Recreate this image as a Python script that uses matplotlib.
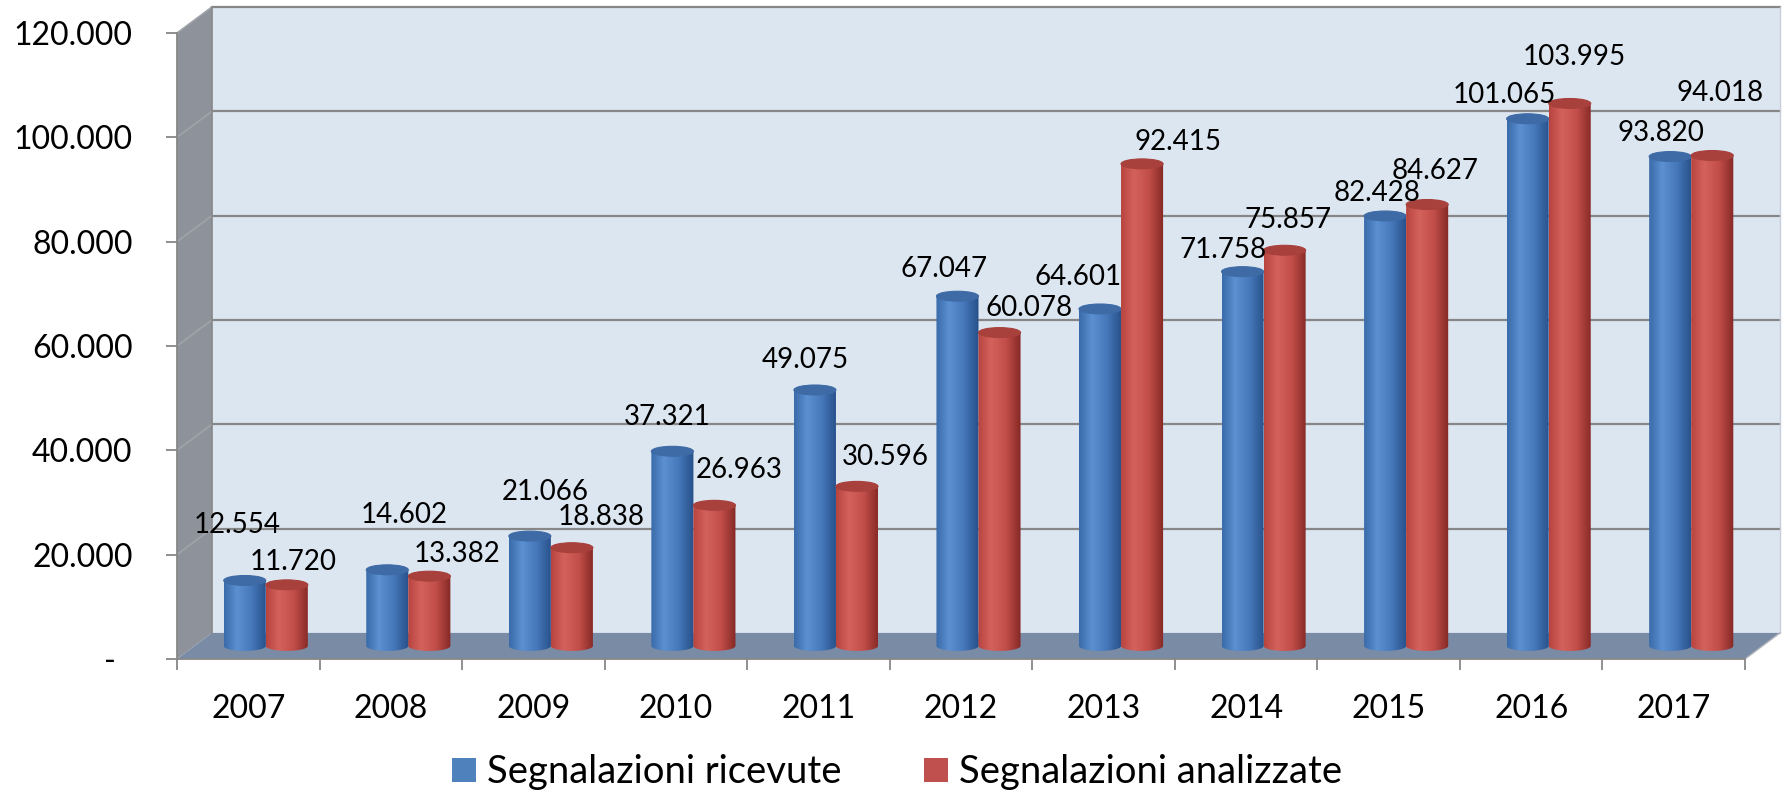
import numpy as np
import matplotlib
matplotlib.use("Agg")
import matplotlib.pyplot as plt
from matplotlib.patches import Polygon, Ellipse, PathPatch, Patch
from matplotlib.path import Path
from matplotlib.colors import LinearSegmentedColormap

plt.rcParams['font.family'] = ['Lato', 'DejaVu Sans']

# data
years = ['2007', '2008', '2009', '2010', '2011', '2012', '2013', '2014', '2015', '2016', '2017']
ricevute = [12554, 14602, 21066, 37321, 49075, 67047, 64601, 71758, 82428, 101065, 93820]
analizzate = [11720, 13382, 18838, 26963, 30596, 60078, 92415, 75857, 84627, 103995, 94018]
series_names = ['Segnalazioni ricevute', 'Segnalazioni analizzate']
y_ticks = [0, 20000, 40000, 60000, 80000, 100000, 120000]

# hand-placed label offsets (pixels from the cylinder top)
off_ricevute = [(-8, 57), (17, 57), (15, 46), (-5, 36), (-10, 32), (-13, 29),
                (-22, 34), (-20, 24), (-8, 25), (-23, 26), (-9, 26)]
off_analizzate = [(6, 25), (28, 24), (29, 33), (25, 37), (28, 31), (30, 27),
                  (36, 24), (3, 32), (8, 35), (5, 48), (8, 64)]

# 3d look
DX = 0.2455      # depth in category units
DY = 5000        # depth in value units
BAR_W = 0.295
ELL_H = 1900
GRID_C = '#878787'

blue_cmap = LinearSegmentedColormap.from_list(
    'b', [(0, '#3A6BAA'), (0.3, '#5B90D1'), (0.65, '#4678BA'), (1, '#27508A')])
red_cmap = LinearSegmentedColormap.from_list(
    'r', [(0, '#B8443F'), (0.3, '#D4625C'), (0.65, '#C24E49'), (1, '#862926')])


def fmt(v):
    if v == 0:
        return '-  '
    return f'{v:,.0f}'.replace(',', '.')


def cylinder(ax, xl, value, cmap, top_color, z):
    xr = xl + BAR_W
    base = DY / 2
    top = value + DY / 2
    t = np.linspace(np.pi, 2 * np.pi, 40)
    xc = (xl + xr) / 2
    ex = xc + BAR_W / 2 * np.cos(t)
    ey = base + ELL_H / 2 * np.sin(t)
    verts = [(xl, top)] + list(zip(ex, ey)) + [(xr, top), (xl, top)]
    clip = PathPatch(Path(verts), facecolor='none', edgecolor='none', zorder=z)
    ax.add_patch(clip)
    grad = np.linspace(0, 1, 64).reshape(1, -1)
    im = ax.imshow(grad, cmap=cmap, extent=[xl, xr, base - ELL_H / 2, top],
                   aspect='auto', interpolation='bilinear', zorder=z)
    im.set_clip_path(clip)
    ax.add_patch(Ellipse((xc, top), BAR_W, ELL_H, facecolor=top_color,
                         edgecolor=top_color, lw=0.8, zorder=z + 0.1))


fig = plt.figure(figsize=(17.85, 7.91), dpi=100)
ax = fig.add_axes([177 / 1785, 132 / 791, 1568 / 1785, 626 / 791])
ax.patch.set_visible(False)

x0, x1 = -0.5, len(years) - 0.5
ymax = y_ticks[-1]

# back wall, side wall, floor
ax.add_patch(Polygon([(x0 + DX, DY), (x1 + DX, DY), (x1 + DX, ymax + DY), (x0 + DX, ymax + DY)],
                     closed=True, facecolor='#DCE6F1', edgecolor='none', zorder=0, clip_on=False))
ax.add_patch(Polygon([(x0, 0), (x0 + DX, DY), (x0 + DX, ymax + DY), (x0, ymax)],
                     closed=True, facecolor='#8E939B', edgecolor='none', zorder=0.5, clip_on=False))
ax.add_patch(Polygon([(x0, 0), (x1, 0), (x1 + DX, DY), (x0 + DX, DY)],
                     closed=True, facecolor='#7A8BA5', edgecolor='none', zorder=0.5, clip_on=False))

for v in y_ticks[1:]:
    ax.plot([x0 + DX, x1 + DX], [v + DY, v + DY], color=GRID_C, lw=1.6, zorder=1, clip_on=False)
    ax.plot([x0, x0 + DX], [v, v + DY], color='#A0A4AA', lw=1.2, zorder=1, clip_on=False)
ax.plot([x0 + DX, x0 + DX], [DY, ymax + DY], color=GRID_C, lw=1.2, zorder=1, clip_on=False)
ax.plot([x1 + DX, x1 + DX], [DY, ymax + DY], color='#C8CFD8', lw=1.0, zorder=1, clip_on=False)
ax.plot([x1, x1 + DX], [0, DY], color='#B0B4BA', lw=1.0, zorder=1, clip_on=False)

# cylinders
for i in range(len(years)):
    cylinder(ax, i - BAR_W + DX / 2, ricevute[i], blue_cmap, '#3E6AA5', 3 + i * 0.5)
    cylinder(ax, i + DX / 2, analizzate[i], red_cmap, '#A8403C', 3.2 + i * 0.5)

# value labels
for i in range(len(years)):
    for vals, offs, shift in ((ricevute, off_ricevute, -BAR_W / 2),
                              (analizzate, off_analizzate, BAR_W / 2)):
        ax.annotate(fmt(vals[i]), xy=(i + shift + DX / 2, vals[i] + DY / 2),
                    xytext=(offs[i][0], offs[i][1] - 10), textcoords='offset pixels',
                    ha='center', va='baseline', fontsize=20, color='black', zorder=20,
                    annotation_clip=False)

ax.set_xlim(x0, x1)
ax.set_ylim(0, ymax)

for s in ('top', 'right'):
    ax.spines[s].set_visible(False)
for s in ('left', 'bottom'):
    ax.spines[s].set_color(GRID_C)
    ax.spines[s].set_linewidth(1.3)
    ax.spines[s].set_zorder(2)

ax.set_yticks(y_ticks)
ax.set_yticklabels([fmt(v) for v in y_ticks])
ax.tick_params(axis='y', length=8, width=1.3, color=GRID_C, pad=24, labelsize=23)

ax.set_xticks(np.arange(x0, x1 + 0.01, 1))
ax.set_xticklabels([])
ax.set_xticks(range(len(years)), minor=True)
ax.set_xticklabels(years, minor=True)
ax.tick_params(axis='x', which='major', length=8, width=1.3, color=GRID_C)
ax.tick_params(axis='x', which='minor', length=0, pad=25, labelsize=23)

handles = [Patch(facecolor='#4F81BD'), Patch(facecolor='#C0504D')]
fig.legend(handles, series_names, loc='center', bbox_to_anchor=(0.5025, 0.0235), ncol=2,
           frameon=False, fontsize=27.5, handlelength=0.63, handleheight=0.58,
           handletextpad=0.29, columnspacing=2.15, borderpad=0)

fig.savefig('out.png', dpi=100)
